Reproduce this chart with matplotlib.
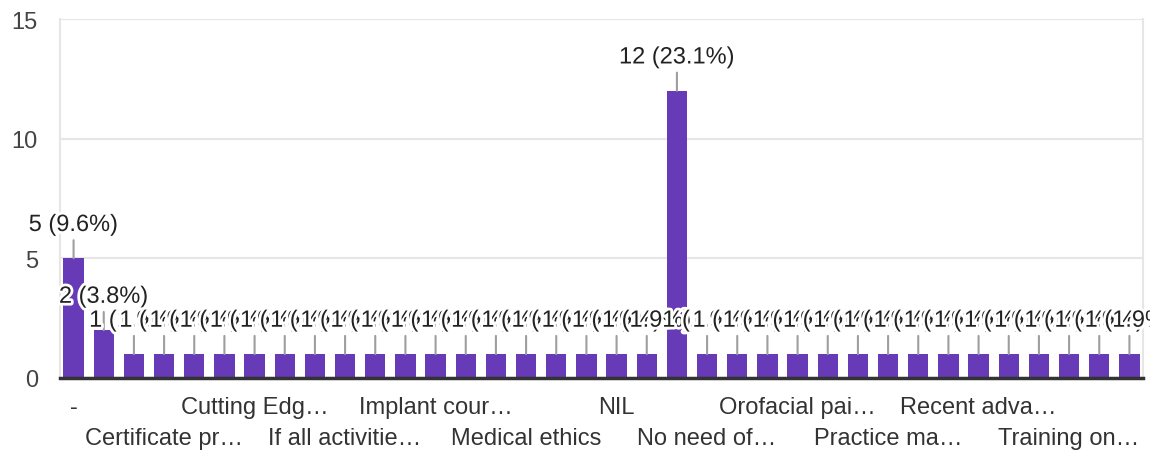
import numpy as np
import matplotlib
matplotlib.use("Agg")
import matplotlib.pyplot as plt
import matplotlib.patheffects as pe

plt.rcParams['font.family'] = ['Liberation Sans', 'DejaVu Sans']

# responses per category (alphabetical, as in the form summary)
counts = [5, 2, 1, 1, 1, 1, 1, 1, 1, 1, 1, 1,
          1, 1, 1, 1, 1, 1, 1, 1, 12, 1, 1, 1,
          1, 1, 1, 1, 1, 1, 1, 1, 1, 1, 1, 1]
# only every third name is printed on the axis; the rest can't be read
categories = ['-', '', '', 'Certificate pr…', '', '', 'Cutting Edg…', '', '',
              'If all activitie…', '', '', 'Implant cour…', '', '', 'Medical ethics',
              '', '', 'NIL', '', '', 'No need of…', '', '', 'Orofacial pai…', '', '',
              'Practice ma…', '', '', 'Recent adva…', '', '', 'Training on…', '', '']
yticks = [0, 5, 10, 15]

total = sum(counts)
x = np.arange(len(counts))

fig = plt.figure(figsize=(11.5, 4.52), dpi=100)
ax = fig.add_axes([60/1150, 1 - 379/452, 1083/1150, 359/452])

purple = '#673ab7'
ax.bar(x, counts, width=0.67, color=purple, zorder=2)

halo = [pe.withStroke(linewidth=4, foreground='white')]
for xi, v in zip(x, counts):
    ax.annotate('{} ({:.1f}%)'.format(v, v / total * 100), xy=(xi, v),
                xytext=(0, 24), textcoords='offset points',
                ha='center', va='center', fontsize=17, color='#222222',
                path_effects=halo, zorder=4,
                arrowprops=dict(arrowstyle='-', color='#9e9e9e', lw=1.5,
                                shrinkA=1, shrinkB=0))

ax.set_xlim(-0.45, len(counts) - 0.55)
ax.set_ylim(0, 15)
ax.set_yticks(yticks)
ax.grid(axis='y', color='#e6e6e6', lw=1.5, zorder=0)
ax.set_axisbelow(True)

# labels alternate between two rows
row1 = x[::6]
row2 = x[3::6]
ax.set_xticks(row1, [categories[i] for i in row1])
ax.set_xticks(row2, [categories[i] for i in row2], minor=True)
ax.tick_params(axis='x', which='major', length=0, pad=13, labelsize=17, labelcolor='#333333')
ax.tick_params(axis='x', which='minor', length=0, pad=35, labelsize=17, labelcolor='#333333')
ax.tick_params(axis='y', length=0, pad=16, labelsize=17, labelcolor='#444444')

for s in ['left', 'right', 'top']:
    ax.spines[s].set_color('#e6e6e6')
    ax.spines[s].set_linewidth(1.5)
ax.spines['top'].set_visible(False)
ax.spines['bottom'].set_color('#333333')
ax.spines['bottom'].set_linewidth(2.5)
ax.spines['bottom'].set_zorder(3)

fig.savefig('out.png', dpi=100)
